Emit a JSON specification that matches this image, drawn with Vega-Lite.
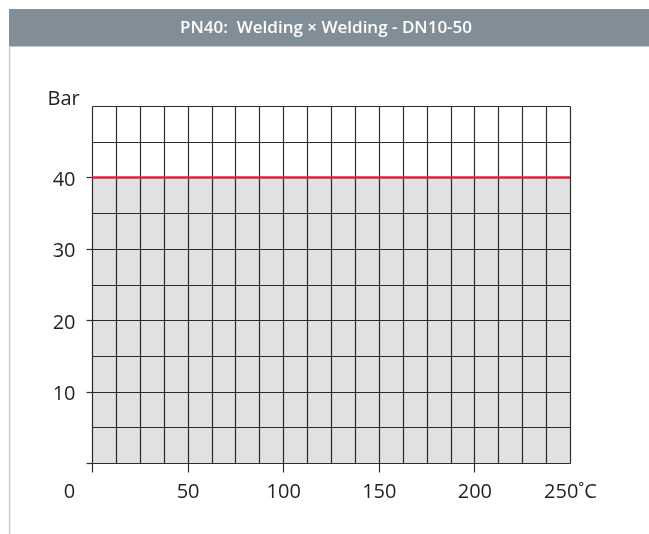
{
  "$schema": "https://vega.github.io/schema/vega-lite/v6.json",
  "autosize": "none",
  "width": 478,
  "height": 357,
  "padding": {"left": 92, "top": 106, "right": 79, "bottom": 71},
  "background": "white",
  "config": {"view": {"stroke": null}, "font": "Open Sans"},
  "layer": [
    {
      "data": {"values": [{"temp": 0, "bar": 40}, {"temp": 250, "bar": 40}]},
      "layer": [
        {
          "mark": {"type": "area", "color": "#e0e1e3", "blend": "multiply"},
          "encoding": {
            "x": {
              "field": "temp", "type": "quantitative",
              "scale": {"domain": [0, 250], "nice": false, "zero": false},
              "axis": {
                "title": null,
                "values": [0, 12.5, 25, 37.5, 50, 62.5, 75, 87.5, 100, 112.5, 125, 137.5, 150, 162.5, 175, 187.5, 200, 212.5, 225, 237.5, 250],
                "tickCount": 100,
                "format": "d",
                "grid": true, "gridColor": "#2e2e2e", "gridWidth": 1.2, "gridOpacity": 1,
                "domain": false,
                "ticks": true, "tickSize": 9, "tickColor": "#2e2e2e", "tickWidth": 1.2,
                "tickOpacity": {"condition": {"test": "datum.value % 50 == 0 && datum.value < 250", "value": 1}, "value": 0},
                "labelExpr": "datum.value % 50 == 0 ? (datum.value == 250 ? '250˚C' : datum.label) : ''",
                "labelOffset": {"condition": {"test": "datum.value == 0", "value": -23}, "value": 0},
                "labelFlush": false, "labelOverlap": false, "labelBound": false,
                "labelFont": "Open Sans", "labelFontSize": 20, "labelColor": "#231f20", "labelPadding": 9
              }
            },
            "y": {
              "field": "bar", "type": "quantitative",
              "scale": {"domain": [0, 50], "nice": false, "zero": true},
              "axis": {
                "title": "Bar", "titleAngle": 0, "titleAlign": "left", "titleBaseline": "alphabetic",
                "titleX": -45, "titleY": -2, "titleFont": "Open Sans", "titleFontSize": 20, "titleFontWeight": "normal", "titleColor": "#231f20",
                "values": [0, 5, 10, 15, 20, 25, 30, 35, 40, 45, 50],
                "tickCount": 100,
                "format": "d",
                "grid": true, "gridColor": "#2e2e2e", "gridWidth": 1.2, "gridOpacity": 1,
                "domain": false,
                "ticks": true, "tickSize": 6, "tickColor": "#2e2e2e", "tickWidth": 1.2,
                "tickOpacity": {"condition": {"test": "datum.value % 10 == 0 && datum.value < 50", "value": 1}, "value": 0},
                "labelExpr": "datum.value % 10 == 0 && datum.value > 0 && datum.value < 50 ? datum.label : ''",
                "labelOverlap": false, "labelBound": false,
                "labelFont": "Open Sans", "labelFontSize": 20, "labelColor": "#231f20", "labelPadding": 11, "labelOffset": 2
              }
            }
          }
        },
        {
          "mark": {"type": "line", "color": "#e3203d", "strokeWidth": 2.5},
          "encoding": {
            "x": {"field": "temp", "type": "quantitative"},
            "y": {"field": "bar", "type": "quantitative"}
          }
        }
      ]
    },
    {
      "data": {"values": [{"label": "PN40:\u00a0 Welding × Welding - DN10-50"}]},
      "layer": [
        {
          "mark": {"type": "rect", "color": "#818e97", "clip": false},
          "encoding": {
            "x": {"datum": -43.4, "type": "quantitative"},
            "x2": {"datum": 300},
            "y": {"datum": 63.6, "type": "quantitative"},
            "y2": {"datum": 58.35}
          }
        },
        {
          "mark": {"type": "rule", "color": "#c9ced3", "strokeWidth": 1.5, "clip": false},
          "encoding": {
            "x": {"datum": -43.1, "type": "quantitative"},
            "y": {"datum": 58.35, "type": "quantitative"},
            "y2": {"datum": -12}
          }
        },
        {
          "mark": {"type": "text", "color": "white", "font": "Open Sans", "fontSize": 17, "fontWeight": 600, "align": "center", "baseline": "middle", "clip": false},
          "encoding": {
            "x": {"datum": 122.4, "type": "quantitative"},
            "y": {"datum": 60.9, "type": "quantitative"},
            "text": {"field": "label"}
          }
        }
      ]
    }
  ]
}
